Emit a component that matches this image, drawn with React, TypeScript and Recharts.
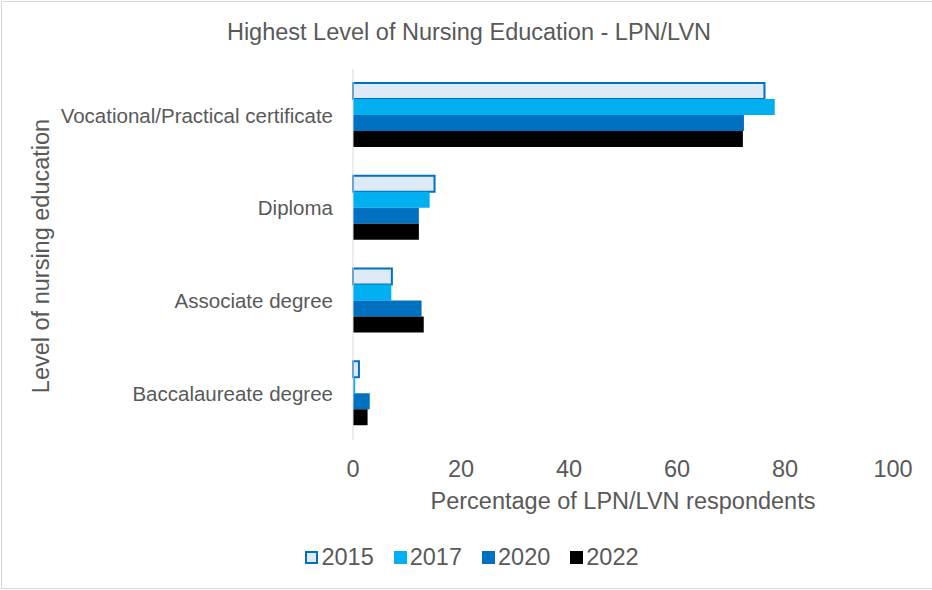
import { Bar, BarChart, XAxis, YAxis } from "recharts"

const CATEGORIES = [
  "Vocational/Practical certificate",
  "Diploma",
  "Associate degree",
  "Baccalaureate degree",
]
const Y2015 = [76.2, 15.1, 7.2, 1.1]
const Y2017 = [78.1, 14.2, 7.1, 0.4]
const Y2020 = [72.4, 12.2, 12.7, 3.1]
const Y2022 = [72.2, 12.2, 13.1, 2.7]
const X_TICKS = [0, 20, 40, 60, 80, 100]

const SERIES = [
  { key: "2015", fill: "#DEEBF7", stroke: "#0070C0" },
  { key: "2017", fill: "#00B0F0", stroke: undefined },
  { key: "2020", fill: "#0070C0", stroke: undefined },
  { key: "2022", fill: "#000000", stroke: undefined },
]

const data = CATEGORIES.map((name, i) => ({
  name,
  "2015": Y2015[i],
  "2017": Y2017[i],
  "2020": Y2020[i],
  "2022": Y2022[i],
}))

const FONT = '"Liberation Sans", Arial, sans-serif'
const TEXT = "#595959"

// legend drawn outside recharts so it doesn't eat into the plot height
function LegendRow() {
  return (
    <div
      style={{
        position: "absolute",
        top: 544,
        left: 6,
        width: 932,
        display: "flex",
        justifyContent: "center",
        gap: 20,
        fontFamily: FONT,
      }}
    >
      {SERIES.map((s) => (
        <span key={s.key} style={{ display: "flex", alignItems: "center", fontSize: 23.5, color: TEXT }}>
          <span
            style={{
              display: "inline-block",
              width: 13,
              height: 13,
              boxSizing: "border-box",
              background: s.fill,
              border: s.stroke ? `2px solid ${s.stroke}` : "none",
              marginRight: 3,
            }}
          />
          {s.key}
        </span>
      ))}
    </div>
  )
}

export default function App() {
  return (
    <div style={{ position: "absolute", top: 0, left: 0, width: 932, height: 590, background: "#fff", fontFamily: FONT }}>
      <div
        style={{
          position: "absolute",
          left: 1,
          top: 1,
          width: 931,
          height: 588,
          boxSizing: "border-box",
          borderTop: "1px solid #d9d9d9",
          borderLeft: "1px solid #d9d9d9",
          borderBottom: "1px solid #d9d9d9",
        }}
      />
      <BarChart
        width={932}
        height={590}
        data={data}
        layout="vertical"
        margin={{ top: 69, right: 39, bottom: 110, left: 0 }}
        barSize={16}
        barGap={0}
      >
        <XAxis
          type="number"
          domain={[0, 100]}
          ticks={X_TICKS}
          axisLine={false}
          tickLine={false}
          tickMargin={14}
          height={40}
          tick={{ fontSize: 23.5, fill: TEXT, fontFamily: FONT }}
        />
        <YAxis
          type="category"
          dataKey="name"
          width={353}
          axisLine={{ stroke: "#d9d9d9" }}
          tickLine={false}
          tickMargin={14}
          tick={{ fontSize: 20.5, fill: TEXT, fontFamily: FONT }}
        />
        {SERIES.map((s) => (
          <Bar
            key={s.key}
            dataKey={s.key}
            fill={s.fill}
            stroke={s.stroke}
            strokeWidth={s.stroke ? 2 : 0}
            isAnimationActive={false}
          />
        ))}
      </BarChart>
      <LegendRow />
      <svg
        width={932}
        height={590}
        style={{ position: "absolute", top: 0, left: 0, pointerEvents: "none" }}
      >
        <text x={469} y={39.5} textAnchor="middle" fontSize={23.5} fill={TEXT} fontFamily={FONT}>
          Highest Level of Nursing Education - LPN/LVN
        </text>
        <text
          transform="translate(48.5 256) rotate(-90)"
          textAnchor="middle"
          fontSize={23.5}
          fill={TEXT}
          fontFamily={FONT}
        >
          Level of nursing education
        </text>
        <text x={623} y={509} textAnchor="middle" fontSize={23.5} fill={TEXT} fontFamily={FONT}>
          Percentage of LPN/LVN respondents
        </text>
      </svg>
    </div>
  )
}
